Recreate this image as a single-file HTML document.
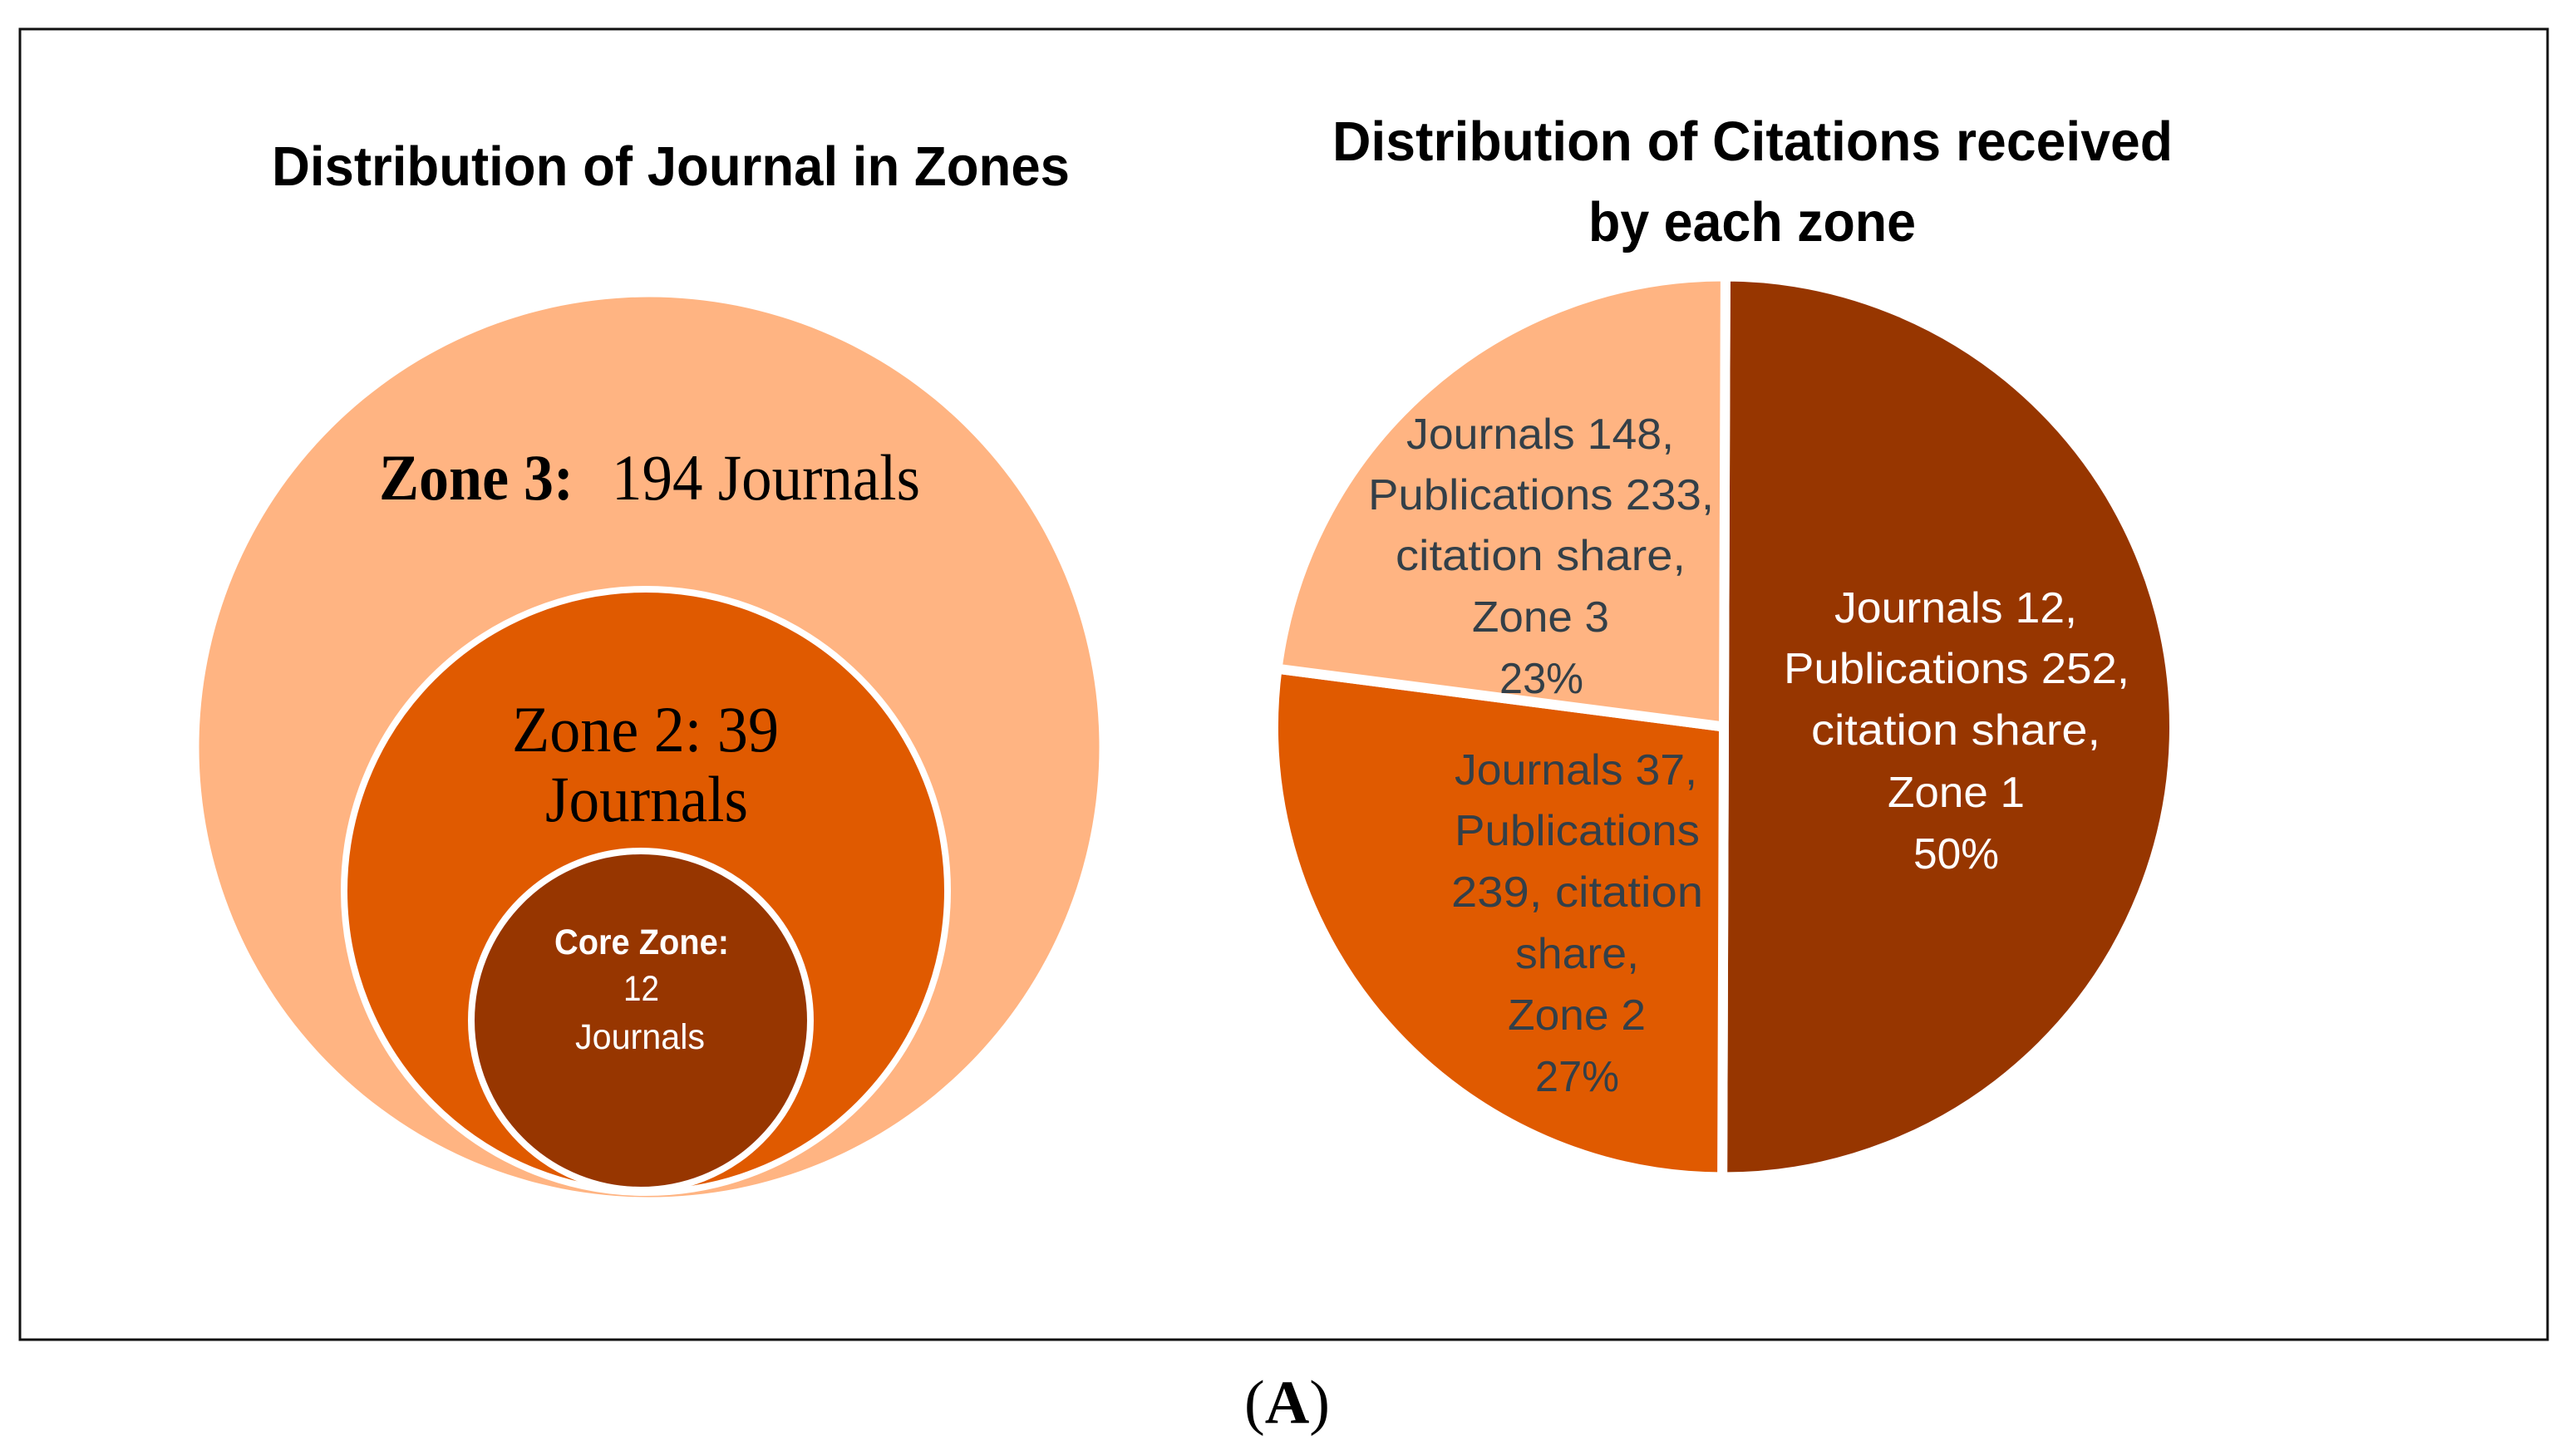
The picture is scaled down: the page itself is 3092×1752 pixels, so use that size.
<!DOCTYPE html>
<html lang="en">
<head>
<meta charset="utf-8">
<title>Distribution of Journals and Citations in Zones</title>
<style>
html,body{margin:0;padding:0;background:#fff;width:3092px;height:1752px;overflow:hidden}
svg{display:block}
.sans{font-family:"Liberation Sans",sans-serif}
.serif{font-family:"Liberation Serif",serif}
.title{font-size:67px;font-weight:700;fill:#000}
.zone{font-size:78px;fill:#000}
.core{font-size:43px;fill:#fff}
.lbl{font-size:52px}
.dark{fill:#333f48}
.light{fill:#fff}
</style>
</head>
<body>
<svg id="figure" xmlns="http://www.w3.org/2000/svg" width="3092" height="1752" viewBox="0 0 3092 1752">
  <rect x="24" y="35" width="3041" height="1577" fill="#fff" stroke="#111" stroke-width="3"/>

  <text class="sans title" x="327" y="223" textLength="960" lengthAdjust="spacingAndGlyphs">Distribution of Journal in Zones</text>

  <g>
    <circle cx="781" cy="899" r="541.5" fill="#ffb482"/>
    <circle cx="777" cy="1072" r="363" fill="#e05a00" stroke="#fff" stroke-width="8"/>
    <circle cx="771" cy="1228" r="204" fill="#973600" stroke="#fff" stroke-width="8"/>
    <text class="serif zone" font-weight="700" x="456" y="601" textLength="234" lengthAdjust="spacingAndGlyphs">Zone 3:</text>
    <text class="serif zone" x="736" y="601" textLength="371" lengthAdjust="spacingAndGlyphs">194 Journals</text>
    <text class="serif zone" x="616" y="904" textLength="321" lengthAdjust="spacingAndGlyphs">Zone 2: 39</text>
    <text class="serif zone" x="656" y="988" textLength="244" lengthAdjust="spacingAndGlyphs">Journals</text>
    <text class="sans core" font-weight="700" x="667" y="1148" textLength="210" lengthAdjust="spacingAndGlyphs">Core Zone:</text>
    <text class="sans core" x="750" y="1204" textLength="43" lengthAdjust="spacingAndGlyphs">12</text>
    <text class="sans core" x="692" y="1262" textLength="156" lengthAdjust="spacingAndGlyphs">Journals</text>
  </g>

  <text class="sans title" x="1603" y="193" textLength="1011" lengthAdjust="spacingAndGlyphs">Distribution of Citations received</text>
  <text class="sans title" x="1911" y="290" textLength="394" lengthAdjust="spacingAndGlyphs">by each zone</text>

  <g id="pie-slices"></g>

  <g class="sans lbl light">
    <text x="2207" y="749" textLength="292" lengthAdjust="spacingAndGlyphs">Journals 12,</text>
    <text x="2146" y="822" textLength="416" lengthAdjust="spacingAndGlyphs">Publications 252,</text>
    <text x="2179" y="896" textLength="348" lengthAdjust="spacingAndGlyphs">citation share,</text>
    <text x="2271" y="971" textLength="165" lengthAdjust="spacingAndGlyphs">Zone 1</text>
    <text id="pct-0" x="2302" y="1045" textLength="103" lengthAdjust="spacingAndGlyphs">50%</text>
  </g>
  <g class="sans lbl dark">
    <text x="1750" y="944" textLength="292" lengthAdjust="spacingAndGlyphs">Journals 37,</text>
    <text x="1750" y="1017" textLength="295" lengthAdjust="spacingAndGlyphs">Publications</text>
    <text x="1746" y="1091" textLength="303" lengthAdjust="spacingAndGlyphs">239, citation</text>
    <text x="1823" y="1165" textLength="149" lengthAdjust="spacingAndGlyphs">share,</text>
    <text x="1814" y="1239" textLength="166" lengthAdjust="spacingAndGlyphs">Zone 2</text>
    <text id="pct-1" x="1847" y="1313" textLength="101" lengthAdjust="spacingAndGlyphs">27%</text>
  </g>
  <g class="sans lbl dark">
    <text x="1692" y="540" textLength="322" lengthAdjust="spacingAndGlyphs">Journals 148,</text>
    <text x="1646" y="613" textLength="416" lengthAdjust="spacingAndGlyphs">Publications 233,</text>
    <text x="1679" y="686" textLength="349" lengthAdjust="spacingAndGlyphs">citation share,</text>
    <text x="1771" y="760" textLength="165" lengthAdjust="spacingAndGlyphs">Zone 3</text>
    <text id="pct-2" x="1804" y="834" textLength="101" lengthAdjust="spacingAndGlyphs">23%</text>
  </g>

  <text class="serif" x="1497" y="1712" font-size="74" fill="#000" textLength="103" lengthAdjust="spacingAndGlyphs">(<tspan font-weight="700">A</tspan>)</text>
</svg>
<script>
var zoneNames = ['Zone 1', 'Zone 2', 'Zone 3'];
var citationShares = [50, 27, 23];
var sliceColors = ['#973600', '#e05a00', '#ffb482'];

var pieCenterX = 2074;
var pieCenterY = 874.5;
var pieRadius = 542;
var pieStartDeg = 0.2;

function shareTotal() {
  return citationShares.reduce(function (a, b) { return a + b; }, 0);
}
function angleOf(cumulative) {
  return (pieStartDeg + cumulative / shareTotal() * 360) * Math.PI / 180;
}
function pointAt(angle) {
  return [pieCenterX + pieRadius * Math.sin(angle), pieCenterY - pieRadius * Math.cos(angle)];
}

var pieGroup = document.getElementById('pie-slices');
var running = 0;
citationShares.forEach(function (share, i) {
  var a0 = angleOf(running);
  var a1 = angleOf(running + share);
  running += share;
  var p0 = pointAt(a0);
  var p1 = pointAt(a1);
  var large = (a1 - a0) > Math.PI ? 1 : 0;
  var path = document.createElementNS('http://www.w3.org/2000/svg', 'path');
  path.setAttribute('d', 'M' + pieCenterX + ' ' + pieCenterY + 'L' + p0[0] + ' ' + p0[1] +
    'A' + pieRadius + ' ' + pieRadius + ' 0 ' + large + ' 1 ' + p1[0] + ' ' + p1[1] + 'Z');
  path.setAttribute('fill', sliceColors[i]);
  path.setAttribute('stroke', '#fff');
  path.setAttribute('stroke-width', '12');
  path.setAttribute('stroke-linejoin', 'round');
  
  
  pieGroup.appendChild(path);
  document.getElementById('pct-' + i).textContent = share + '%';
});
</script>
</body>
</html>
